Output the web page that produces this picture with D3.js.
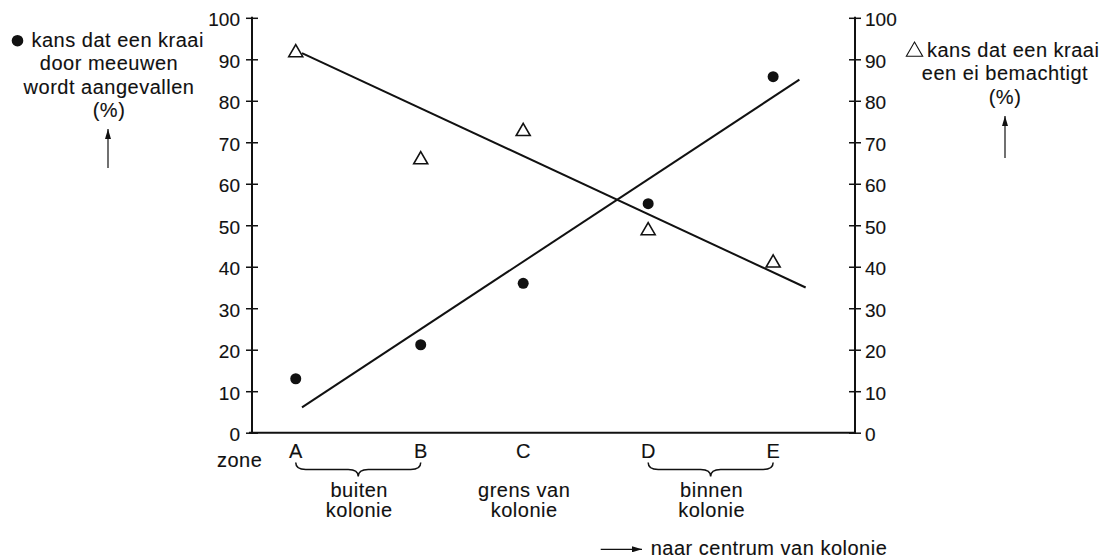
<!DOCTYPE html>
<html>
<head>
<meta charset="utf-8">
<script src="https://cdn.jsdelivr.net/npm/d3@7"></script>
<style>
  html, body { margin: 0; padding: 0; background: #fff; }
  svg { display: block; font-family: "Liberation Sans", Arial, sans-serif; }
  .lbl { font-size: 20px; letter-spacing: 0.5px; fill: #111; stroke: #111; stroke-width: 0.12px; }
  .num { font-size: 19px; fill: #111; stroke: #111; stroke-width: 0.12px; }
</style>
</head>
<body>
<svg id="chart" width="1106" height="559"></svg>
<script>
// ---- data ----
const zones = ["A", "B", "C", "D", "E"];
const zonePos = [0, 1, 1.82, 2.82, 3.82];           // relative distance along the transect
const attacked = [13, 21.2, 36, 55.2, 85.8];         // ● kans dat een kraai door meeuwen wordt aangevallen (%)
const eggTaken = [91.6, 65.8, 72.6, 48.7, 40.9];     // △ kans dat een kraai een ei bemachtigt (%)
const trendAttacked = [[0.05, 6.1], [4.03, 85.1]];   // fitted line through ●
const trendEgg = [[0.05, 91.5], [4.08, 35.0]];       // fitted line through △
const yTicks = [0, 10, 20, 30, 40, 50, 60, 70, 80, 90, 100];
const xDomain = [-0.35, 4.475];
const groups = [
  { from: 0, to: 1, lines: ["buiten", "kolonie"], brace: true },
  { from: 2, to: 2, lines: ["grens van", "kolonie"], brace: false },
  { from: 3, to: 4, lines: ["binnen", "kolonie"], brace: true }
];
const leftLegend = ["kans dat een kraai", "door meeuwen", "wordt aangevallen", "(%)"];
const rightLegend = ["kans dat een kraai", "een ei bemachtigt", "(%)"];

// ---- layout ----
const svg = d3.select("#chart");
const L = 252, R = 855, T = 17.8, B = 432.7;
const x = d3.scaleLinear().domain(xDomain).range([L, R]);
const y = d3.scaleLinear().domain([0, 100]).range([B, T]);

svg.append("defs").append("marker")
  .attr("id", "ah").attr("viewBox", "0 0 10 6").attr("refX", 10).attr("refY", 3)
  .attr("markerWidth", 10).attr("markerHeight", 6).attr("markerUnits", "userSpaceOnUse")
  .attr("orient", "auto")
  .append("path").attr("d", "M0,0 L10,3 L0,6 Z").attr("fill", "#111");

// axes
const gl = svg.append("g").attr("transform", `translate(${L},0)`)
  .call(d3.axisLeft(y).tickValues(yTicks).tickSize(6).tickPadding(6));
gl.select(".domain").remove();
gl.selectAll(".tick line").attr("x1", 6).attr("stroke", "#111").attr("stroke-width", 1.5);
gl.selectAll(".tick text").attr("class", "num").attr("dy", "0.42em").attr("x", -12)
  .style("font-size", "19px").style("font-family", "Liberation Sans, Arial, sans-serif").attr("fill", "#111");

const gr = svg.append("g").attr("transform", `translate(${R},0)`)
  .call(d3.axisRight(y).tickValues(yTicks).tickSize(6).tickPadding(6));
gr.select(".domain").remove();
gr.selectAll(".tick line").attr("x1", -6).attr("stroke", "#111").attr("stroke-width", 1.5);
gr.selectAll(".tick text").attr("class", "num").attr("dy", "0.42em").attr("x", 10)
  .style("font-size", "19px").style("font-family", "Liberation Sans, Arial, sans-serif").attr("fill", "#111");

svg.append("line").attr("x1", L).attr("x2", L).attr("y1", y(100) - 1).attr("y2", B + 1)
  .attr("stroke", "#111").attr("stroke-width", 2);
svg.append("line").attr("x1", R).attr("x2", R).attr("y1", y(100) - 1).attr("y2", B + 1)
  .attr("stroke", "#111").attr("stroke-width", 2);
svg.append("line").attr("x1", L - 3).attr("x2", R + 1).attr("y1", B).attr("y2", B)
  .attr("stroke", "#111").attr("stroke-width", 2);

// trend lines
const line = d3.line().x(d => x(d[0])).y(d => y(d[1]));
[trendAttacked, trendEgg].forEach(t => {
  svg.append("path").attr("d", line(t)).attr("fill", "none")
    .attr("stroke", "#111").attr("stroke-width", 2);
});

// points
svg.selectAll("circle.pt").data(attacked).join("circle").attr("class", "pt")
  .attr("cx", (d, i) => x(zonePos[i])).attr("cy", d => y(d)).attr("r", 5.5).attr("fill", "#111");

const tri = d3.symbol().type(d3.symbolTriangle).size(85);
svg.selectAll("path.tri").data(eggTaken).join("path").attr("class", "tri")
  .attr("d", tri)
  .attr("transform", (d, i) => `translate(${x(zonePos[i])},${y(d)})`)
  .attr("fill", "#fff").attr("stroke", "#111").attr("stroke-width", 1.6);

// zone labels
svg.append("text").attr("class", "lbl").attr("x", 217).attr("y", 467).text("zone");
svg.selectAll("text.zone").data(zones).join("text").attr("class", "lbl zone")
  .attr("x", (d, i) => x(zonePos[i])).attr("y", 458.3).attr("text-anchor", "middle")
  .style("letter-spacing", "0px").text(d => d);

// braces and group labels
function bracePath(x1, x2, y0) {
  const h = 7, tip = 7, r = 10, m = (x1 + x2) / 2;
  return `M${x1},${y0} Q${x1},${y0 + h} ${x1 + r},${y0 + h} L${m - r},${y0 + h} Q${m},${y0 + h} ${m},${y0 + h + tip}` +
         ` Q${m},${y0 + h} ${m + r},${y0 + h} L${x2 - r},${y0 + h} Q${x2},${y0 + h} ${x2},${y0}`;
}
groups.forEach(g => {
  const x1 = x(zonePos[g.from]), x2 = x(zonePos[g.to]);
  const m = (x1 + x2) / 2;
  if (g.brace) {
    svg.append("path").attr("d", bracePath(x1, x2, 462.5)).attr("fill", "none")
      .attr("stroke", "#111").attr("stroke-width", 1.5);
  }
  g.lines.forEach((t, k) => {
    svg.append("text").attr("class", "lbl").attr("x", m + 1).attr("y", 496.7 + k * 20.6)
      .attr("text-anchor", "middle").text(t);
  });
});

// bottom direction arrow
svg.append("line").attr("x1", 600.7).attr("x2", 642).attr("y1", 549.3).attr("y2", 549.3)
  .attr("stroke", "#111").attr("stroke-width", 1.2).attr("marker-end", "url(#ah)");
svg.append("text").attr("class", "lbl").attr("x", 650.7).attr("y", 555).text("naar centrum van kolonie");

// left legend
svg.append("circle").attr("cx", 17.5).attr("cy", 40.7).attr("r", 5.8).attr("fill", "#111");
leftLegend.forEach((t, k) => {
  if (k === 0) {
    svg.append("text").attr("class", "lbl").attr("x", 31.5).attr("y", 46.7).text(t);
  } else {
    svg.append("text").attr("class", "lbl").attr("x", 109).attr("y", 46.7 + k * 23.5)
      .attr("text-anchor", "middle").text(t);
  }
});
svg.append("line").attr("x1", 108).attr("x2", 108).attr("y1", 168).attr("y2", 129)
  .attr("stroke", "#111").attr("stroke-width", 1.2).attr("marker-end", "url(#ah)");

// right legend
svg.append("path").attr("d", d3.symbol().type(d3.symbolTriangle).size(115)())
  .attr("transform", "translate(914.5,51.5)").attr("fill", "none").attr("stroke", "#111").attr("stroke-width", 1.1);
rightLegend.forEach((t, k) => {
  if (k === 0) {
    svg.append("text").attr("class", "lbl").attr("x", 927).attr("y", 56.5).text(t);
  } else {
    svg.append("text").attr("class", "lbl").attr("x", 1005).attr("y", 56.5 + k * 23.7)
      .attr("text-anchor", "middle").text(t);
  }
});
svg.append("line").attr("x1", 1005).attr("x2", 1005).attr("y1", 158).attr("y2", 116)
  .attr("stroke", "#111").attr("stroke-width", 1.2).attr("marker-end", "url(#ah)");
</script>
</body>
</html>
